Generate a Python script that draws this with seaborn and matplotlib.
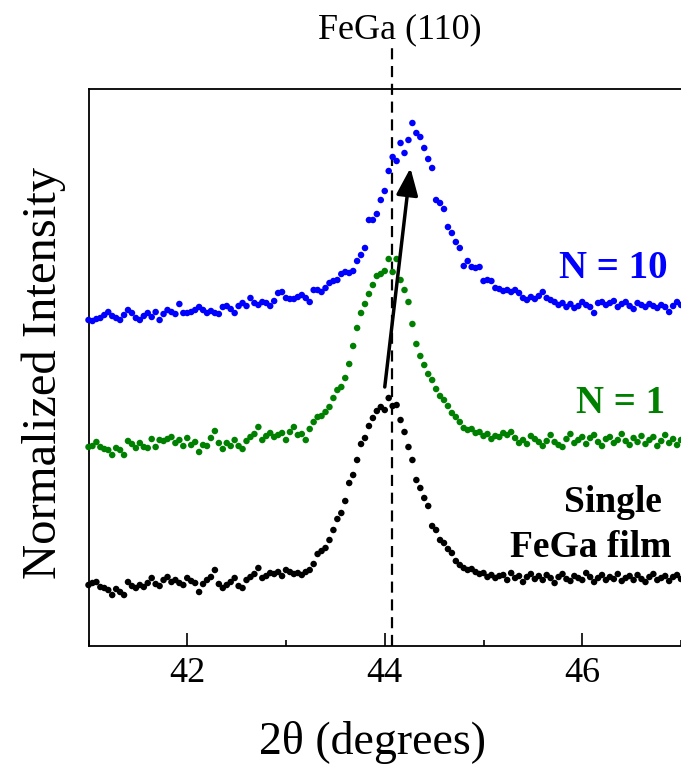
import numpy as np
import pandas as pd
import matplotlib
matplotlib.use("Agg")
import matplotlib.pyplot as plt
import seaborn as sns

# ---- data (intensity in arbitrary, vertically offset units) ----
two_theta = np.linspace(41.0, 47.0, 151)  # scan grid, 0.04 deg step

single_film = [
    61, 63, 64, 59, 58, 56, 51, 57, 54, 51, 64, 60, 58, 61, 59, 63, 68, 62, 60, 66,
    69, 64, 66, 63, 61, 68, 65, 63, 54, 62, 66, 69, 76, 62, 58, 61, 64, 68, 60, 58,
    66, 69, 72, 78, 68, 70, 73, 72, 74, 70, 76, 74, 72, 73, 71, 74, 76, 82, 92, 95,
    98, 106, 116, 127, 133, 145, 163, 171, 186, 202, 208, 220, 228, 235, 239, 236, 248, 240, 241, 226,
    214, 199, 186, 166, 158, 148, 140, 120, 116, 106, 103, 97, 93, 85, 81, 78, 76, 77, 74, 72,
    73, 69, 71, 68, 70, 71, 66, 73, 68, 70, 64, 69, 72, 67, 70, 66, 71, 68, 63, 69,
    72, 67, 65, 70, 68, 66, 73, 69, 64, 68, 71, 66, 69, 67, 72, 65, 68, 70, 66, 71,
    67, 64, 69, 72, 66, 68, 70, 65, 69, 71, 67,
]

n1 = [
    199, 200, 204, 199, 197, 196, 191, 198, 196, 191, 205, 202, 198, 203, 199, 198, 207, 199, 206, 205,
    207, 209, 203, 206, 200, 208, 201, 204, 194, 201, 200, 208, 215, 203, 197, 203, 200, 206, 200, 197,
    205, 209, 212, 219, 206, 210, 213, 209, 211, 213, 206, 214, 219, 211, 212, 206, 217, 224, 229, 230,
    234, 239, 248, 256, 259, 268, 282, 300, 318, 333, 342, 352, 361, 370, 372, 375, 387, 374, 387, 366,
    356, 344, 322, 302, 290, 281, 272, 266, 257, 250, 246, 240, 233, 229, 224, 218, 216, 217, 213, 214,
    210, 212, 207, 210, 209, 213, 211, 214, 208, 203, 206, 202, 210, 207, 204, 200, 205, 211, 204, 201,
    199, 207, 212, 203, 206, 209, 202, 208, 211, 204, 200, 207, 209, 203, 206, 212, 205, 201, 208, 204,
    210, 202, 206, 209, 200, 205, 211, 203, 207, 201, 206,
]

n10 = [
    326, 325, 327, 328, 331, 334, 330, 328, 326, 331, 336, 333, 328, 326, 330, 333, 329, 334, 326, 332,
    336, 334, 332, 342, 333, 333, 334, 336, 339, 336, 333, 335, 333, 332, 339, 340, 337, 333, 340, 343,
    340, 348, 343, 341, 344, 343, 340, 345, 353, 354, 348, 347, 347, 349, 351, 348, 344, 356, 356, 354,
    358, 363, 365, 366, 372, 374, 373, 375, 385, 391, 398, 426, 426, 432, 446, 455, 475, 489, 485, 503,
    493, 506, 523, 513, 509, 498, 487, 478, 446, 443, 437, 419, 413, 404, 398, 380, 385, 379, 378, 379,
    365, 366, 365, 358, 357, 355, 356, 354, 356, 353, 348, 346, 349, 347, 350, 354, 348, 346, 344, 341,
    343, 339, 342, 338, 340, 344, 341, 339, 333, 343, 344, 341, 343, 345, 339, 342, 344, 340, 337, 343,
    341, 339, 342, 340, 338, 341, 339, 334, 340, 344, 341,
]

sample_names = ["Single FeGa film", "N = 1", "N = 10"]
sample_colors = ["#000000", "#008000", "#0000ff"]
peak_position = 44.07
peak_label = "FeGa (110)"

df = pd.concat([
    pd.DataFrame({"two_theta": two_theta, "intensity": vals, "sample": name})
    for name, vals in zip(sample_names, [single_film, n1, n10])
], ignore_index=True)

# ---- style ----
sns.set_style("ticks")
plt.rcParams["font.family"] = ["Liberation Serif", "DejaVu Serif"]
plt.rcParams["text.color"] = "black"
plt.rcParams["axes.labelcolor"] = "black"
plt.rcParams["xtick.color"] = "black"
plt.rcParams["ytick.color"] = "black"

fig = plt.figure(figsize=(6.81, 7.75), dpi=100)
W, H = 681, 775
left_px, right_px, top_px, bot_px = 88.5, 681, 89, 646
ax = fig.add_axes([left_px / W, (H - bot_px) / H, (right_px - left_px) / W, (bot_px - top_px) / H])

sns.scatterplot(data=df, x="two_theta", y="intensity", hue="sample",
                palette=dict(zip(sample_names, sample_colors)),
                s=22, linewidth=0, legend=False, ax=ax, zorder=3, clip_on=False)

ax.set_xlim(41, 47)
ax.set_ylim(0, 557)

# spines / ticks
for side in ["left", "bottom", "top"]:
    ax.spines[side].set_linewidth(1.3)
    ax.spines[side].set_color("black")
ax.spines["right"].set_visible(False)
ax.set_xticks([42, 44, 46])
ax.set_xticks([41, 43, 45, 47], minor=True)
ax.set_yticks([])
ax.tick_params(axis="x", which="major", direction="in", length=9.5, width=1.2,
               labelsize=26, pad=8, top=False, colors="black")
ax.tick_params(axis="x", which="minor", direction="in", length=4.5, width=1.2, top=False)

ax.set_xlabel("2θ (degrees)", fontsize=33, color="black")
ax.xaxis.set_label_coords(0.479, -0.135)
ax.set_ylabel("Normalized Intensity", fontsize=35, color="black")
ax.yaxis.set_label_coords(-0.038, 0.49)

# reference peak line
ax.plot([peak_position, peak_position], [0, 599], color="black", lw=1.6,
        linestyle=(0, (5, 3)), clip_on=False, zorder=2)
ax.text(44.15, 608, peak_label, fontsize=26, ha="center", va="baseline", color="black")

# shift arrow
ax.annotate("", xy=(44.26, 478), xytext=(44.00, 259),
            arrowprops=dict(arrowstyle="-|>,head_length=0.55,head_width=0.22",
                            lw=2.5, color="black", mutation_scale=30,
                            shrinkA=0, shrinkB=0), zorder=5)

# series labels
ax.text(46.86, 368, "N = 10", color="#0000ff", fontsize=28, fontweight="bold",
        ha="right", va="baseline")
ax.text(46.84, 233, "N = 1", color="#008000", fontsize=28, fontweight="bold",
        ha="right", va="baseline")
ax.text(46.31, 134, "Single", color="black", fontsize=27, fontweight="bold",
        ha="center", va="baseline")
ax.text(46.09, 89, "FeGa film", color="black", fontsize=27, fontweight="bold",
        ha="center", va="baseline")

fig.savefig("out.png", dpi=100)
